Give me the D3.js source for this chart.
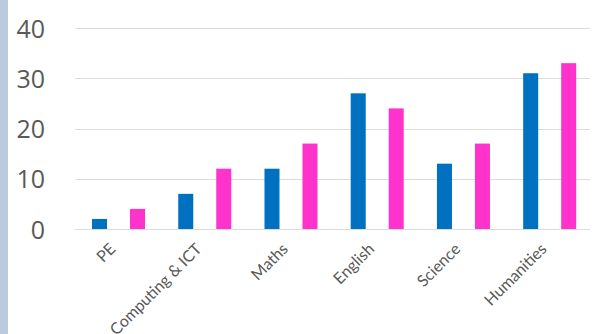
<!DOCTYPE html>
<html>
<head>
<meta charset="utf-8">
<script src="https://cdn.jsdelivr.net/npm/d3@7"></script>
<style>
  html, body { margin: 0; padding: 0; background: #ffffff; }
  svg { display: block; }
</style>
</head>
<body>
<svg id="chart" width="594" height="334"></svg>
<script>
// Subjects along the x axis
const categories = ["PE", "Computing & ICT", "Maths", "English", "Science", "Humanities"];
// Two series per subject
const seriesNames = ["Series A", "Series B"];
const seriesA = [2, 7, 12, 27, 13, 31];
const seriesB = [4, 12, 17, 24, 17, 33];
const yTicks = [0, 10, 20, 30, 40];
const seriesColors = ["#0070C0", "#FF33CC"];

const W = 594, H = 334;
const svg = d3.select("#chart");

// left frame strip
svg.append("rect").attr("x", 0).attr("y", 0).attr("width", 8).attr("height", H)
  .attr("fill", "#b9cbdc");

const plot = { left: 75.4, right: 592.8, top: 28, bottom: 229 };

const x = d3.scaleBand().domain(categories).range([plot.left, plot.right])
  .paddingInner(0).paddingOuter(0);
const xInner = d3.scaleBand().domain(seriesNames).range([0, x.bandwidth()])
  .paddingInner(0.605).paddingOuter(0.437);
const y = d3.scaleLinear().domain([0, 40]).range([plot.bottom, plot.top]);

// gridlines
const grid = d3.axisLeft(y).tickValues(yTicks).tickSize(-(590 - plot.left)).tickFormat("");
svg.append("g").attr("transform", `translate(${plot.left},0)`).call(grid)
  .call(g => g.select(".domain").remove())
  .call(g => g.selectAll("line").attr("stroke", "#dcdcdc").attr("stroke-width", 1)
    .attr("shape-rendering", "crispEdges"));

// y tick labels
const yAxis = d3.axisLeft(y).tickValues(yTicks).tickSize(0).tickPadding(0);
svg.append("g").attr("transform", "translate(45,0)").call(yAxis)
  .call(g => g.select(".domain").remove())
  .call(g => g.selectAll("text")
    .attr("fill", "#595959")
    .attr("font-family", "'Open Sans', sans-serif")
    .attr("font-size", 25)
    .attr("dy", "0.36em"));

// bars
const rows = categories.map((c, i) => ({ cat: c, vals: [seriesA[i], seriesB[i]] }));
const groups = svg.append("g").selectAll("g").data(rows).join("g")
  .attr("transform", d => `translate(${x(d.cat)},0)`);
groups.selectAll("rect")
  .data(d => d.vals.map((v, k) => ({ key: seriesNames[k], v, k })))
  .join("rect")
  .attr("x", d => xInner(d.key))
  .attr("width", xInner.bandwidth())
  .attr("y", d => y(d.v))
  .attr("height", d => y(0) - y(d.v))
  .attr("fill", d => seriesColors[d.k]);

// x tick labels, rotated
const xAxis = d3.axisBottom(x).tickSize(0).tickPadding(0);
svg.append("g").attr("transform", `translate(0,${plot.bottom})`).call(xAxis)
  .call(g => g.select(".domain").remove())
  .call(g => g.selectAll("text")
    .attr("fill", "#595959")
    .attr("font-family", "Lato, sans-serif")
    .attr("font-size", 16)
    .attr("text-anchor", "end")
    .attr("dy", null)
    .attr("y", 0)
    .attr("transform", "translate(-2,21) rotate(-45)"));
</script>
</body>
</html>
